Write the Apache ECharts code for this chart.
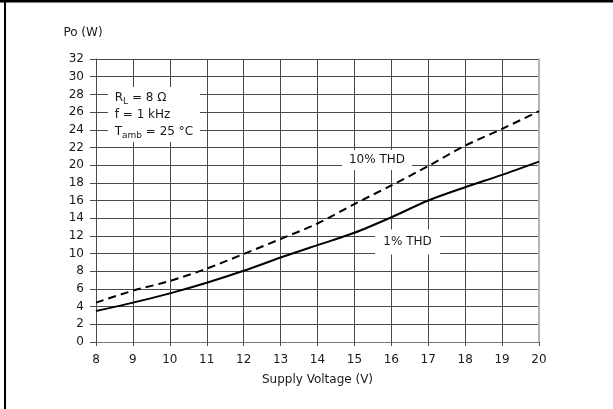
<!DOCTYPE html>
<html>
<head>
<meta charset="utf-8">
<script src="https://cdn.jsdelivr.net/npm/echarts@6/dist/echarts.min.js"></script>
<style>
  html, body { margin: 0; padding: 0; background: #fff; }
  #chart { width: 613px; height: 409px; }
</style>
</head>
<body>
<div id="chart"></div>
<script>
// supply voltage (V)
const voltages = [8, 9, 10, 11, 12, 13, 14, 15, 16, 17, 18, 19, 20];
// output power (W)
const thd1 = [3.5, 4.45, 5.5, 6.7, 8.05, 9.55, 10.95, 12.35, 14.1, 16.0, 17.5, 18.9, 20.4];
const thd10 = [4.45, 5.8, 6.9, 8.3, 9.95, 11.65, 13.4, 15.6, 17.7, 19.9, 22.2, 24.1, 26.1];

const FONT = 'DejaVu Sans';
const TEXT_COLOR = '#1a1a1a';
const GRID_COLOR = '#4a4a4a';

function pairs(ys) {
  return voltages.map(function (v, i) { return [v, ys[i]]; });
}

const chart = echarts.init(document.getElementById('chart'), null, { renderer: 'canvas' });

const option = {
  animation: false,
  backgroundColor: '#fff',
  textStyle: { fontFamily: FONT, color: TEXT_COLOR },
  grid: { left: 96, right: 74, top: 59, bottom: 67 },

  xAxis: {
    type: 'value',
    min: 8, max: 20, interval: 1,
    name: 'Supply Voltage (V)',
    nameLocation: 'middle',
    nameGap: 32,
    nameTextStyle: { fontFamily: FONT, fontSize: 12, color: TEXT_COLOR },
    axisLine: { show: true, onZero: false, lineStyle: { color: '#777', width: 1 } },
    axisTick: { show: true, length: 4, lineStyle: { color: GRID_COLOR } },
    axisLabel: { margin: 12, fontFamily: FONT, fontSize: 12, color: TEXT_COLOR },
    splitLine: { show: true, lineStyle: { color: GRID_COLOR, width: 1 } }
  },

  yAxis: [{
    type: 'value',
    min: 0, max: 32, interval: 2,
    name: 'Po (W)',
    nameLocation: 'end',
    nameGap: 20,
    nameTextStyle: { fontFamily: FONT, fontSize: 12, color: TEXT_COLOR, align: 'center', padding: [0, 26, 0, 0] },
    axisLine: { show: true, lineStyle: { color: GRID_COLOR, width: 1 } },
    axisTick: { show: true, length: 6, lineStyle: { color: GRID_COLOR } },
    axisLabel: { margin: 12, fontFamily: FONT, fontSize: 12, color: TEXT_COLOR },
    splitLine: { show: true, lineStyle: { color: GRID_COLOR, width: 1 } }
  }, {
    // right frame of the plot, lighter grey
    type: 'value',
    position: 'right',
    min: 0, max: 32, interval: 2,
    axisLine: { show: true, lineStyle: { color: '#b4b4b4', width: 2 } },
    axisTick: { show: false },
    axisLabel: { show: false },
    splitLine: { show: false }
  }],

  series: [{
    name: '1% THD',
    type: 'line',
    data: pairs(thd1),
    smooth: 0.3,
    showSymbol: false,
    lineStyle: { color: '#000', width: 2 },
    markPoint: {
      silent: true,
      symbol: 'rect',
      itemStyle: { color: '#fff' },
      data: [{
        coord: [9.57, 25.72],
        symbolSize: [92, 55],
        label: {
          show: true,
          position: 'inside',
          formatter: '{n|R}{s|L}{n| = 8 Ω}\n{n|f = 1 kHz}\n{n|T}{s|amb}{n| = 25 °C}',
          rich: {
            n: { fontFamily: FONT, fontSize: 12, color: TEXT_COLOR, lineHeight: 17, align: 'left' },
            s: { fontFamily: FONT, fontSize: 9, color: TEXT_COLOR, lineHeight: 9, verticalAlign: 'bottom', align: 'left' }
          }
        }
      }, {
        coord: [15.61, 20.58],
        symbolSize: [70, 20],
        label: { show: true, position: 'inside', formatter: '10% THD', fontFamily: FONT, fontSize: 12, color: TEXT_COLOR }
      }, {
        coord: [16.44, 11.3],
        symbolSize: [65, 25],
        label: { show: true, position: 'inside', formatter: '1% THD', fontFamily: FONT, fontSize: 12, color: TEXT_COLOR }
      }]
    }
  }, {
    name: '10% THD',
    type: 'line',
    data: pairs(thd10),
    smooth: 0.3,
    showSymbol: false,
    lineStyle: { color: '#000', width: 2, type: [8, 5] }
  }],

  // outer frame (top and left edges only)
  graphic: [
    { type: 'rect', shape: { x: 0, y: 0, width: 613, height: 2.5 }, style: { fill: '#000' }, silent: true },
    { type: 'rect', shape: { x: 4, y: 0, width: 2, height: 409 }, style: { fill: '#000' }, silent: true }
  ]
};

chart.setOption(option);
</script>
</body>
</html>
